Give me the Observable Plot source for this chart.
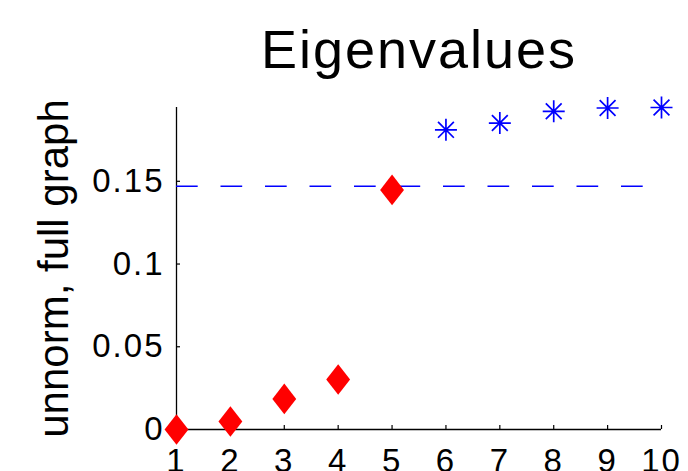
<!DOCTYPE html>
<html>
<head>
<meta charset="utf-8">
<script src="https://cdn.jsdelivr.net/npm/d3@7"></script>
<script src="https://cdn.jsdelivr.net/npm/@observablehq/plot@0.6"></script>
<style>
  html, body { margin: 0; padding: 0; background: #fff; }
</style>
</head>
<body>
<div id="chart"></div>
<script>
// ---- data ----
const titleText = "Eigenvalues";
const yLabelText = "unnorm, full graph";
const lowIndex = [1, 2, 3, 4, 5];
const lowValues = [0, 0.0048, 0.0185, 0.0302, 0.1448];
const highIndex = [6, 7, 8, 9, 10];
const highValues = [0.1811, 0.1852, 0.1923, 0.1943, 0.1946];
const thresholdValue = [0.147];
const xTicks = [1, 2, 3, 4, 5, 6, 7, 8, 9, 10];
const yTicks = [0, 0.05, 0.1, 0.15];
const yTickLabels = ["0", "0.05", "0.1", "0.15"];

const lowData = lowIndex.map((k, i) => ({k, v: lowValues[i]}));
const highData = highIndex.map((k, i) => ({k, v: highValues[i]}));

// ---- custom symbols ----
const tallDiamond = {
  draw(ctx, size) {
    const r = Math.sqrt(size / Math.PI);
    const w = r * 0.78;
    ctx.moveTo(0, -r);
    ctx.lineTo(w, 0);
    ctx.lineTo(0, r);
    ctx.lineTo(-w, 0);
    ctx.closePath();
  }
};
const asterisk = {
  draw(ctx, size) {
    const r = Math.sqrt(size / Math.PI);
    const d = r * 0.72;
    ctx.moveTo(0, -r); ctx.lineTo(0, r);
    ctx.moveTo(-r, 0); ctx.lineTo(r, 0);
    ctx.moveTo(-d, -d); ctx.lineTo(d, d);
    ctx.moveTo(-d, d); ctx.lineTo(d, -d);
  }
};

const W = 688, H = 471;
const mL = 176, mR = 27, mT = 107, mB = 42;
const frameW = W - mL - mR, frameH = H - mT - mB;

const chart = Plot.plot({
  width: W,
  height: H,
  marginLeft: mL,
  marginRight: mR,
  marginTop: mT,
  marginBottom: mB,
  style: {background: "white", fontFamily: "'Liberation Sans', Arial, Helvetica, sans-serif", color: "black"},
  x: {domain: [1, 10]},
  y: {domain: [0, 0.1946]},
  marks: [
    Plot.axisX({ticks: xTicks, tickSize: 0, tickPadding: 19, fontSize: 33, tickFormat: d => String(d), label: null}),
    Plot.axisY({ticks: yTicks, tickSize: 0, tickPadding: 12, fontSize: 33, tickFormat: (d, i) => yTickLabels[yTicks.indexOf(d)], label: null}),
    Plot.ruleX([1], {stroke: "black", strokeWidth: 1.3}),
    Plot.ruleY([0], {stroke: "black", strokeWidth: 1.3}),
    Plot.tickY(yTicks, {y: d => d, stroke: "black", strokeWidth: 1.2, insetRight: frameW - 4}),
    Plot.tickX(xTicks, {x: d => d, stroke: "black", strokeWidth: 1.2, insetTop: frameH - 4}),
    Plot.ruleY(thresholdValue, {y: d => d, stroke: "#0000ff", strokeWidth: 1.7, strokeDasharray: "21.7,22.8"}),
    Plot.dot(lowData, {x: "k", y: "v", symbol: tallDiamond, r: 15.3, fill: "#ff0000", stroke: "none"}),
    Plot.dot(highData, {x: "k", y: "v", symbol: asterisk, r: 11, fill: "none", stroke: "#0000ff", strokeWidth: 1.7}),
    Plot.text([titleText], {text: d => d, frameAnchor: "top", dy: -39.7, lineAnchor: "bottom", textAnchor: "middle", fontSize: 54, fill: "black"}),
    Plot.text([yLabelText], {text: d => d, frameAnchor: "left", dx: 67 - mL, rotate: -90, lineAnchor: "bottom", textAnchor: "middle", fontSize: 42, fill: "black"})
  ]
});

document.getElementById("chart").appendChild(chart);

const svg = d3.select(chart);
svg.selectAll('g[aria-label="y-axis tick label"] text').attr("letter-spacing", "2px");
svg.selectAll('g[aria-label="x-axis tick label"] text').attr("letter-spacing", "2px");
svg.selectAll('g[aria-label="text"] text').filter(function() { return this.textContent === titleText; }).attr("letter-spacing", "2px");
</script>
</body>
</html>
